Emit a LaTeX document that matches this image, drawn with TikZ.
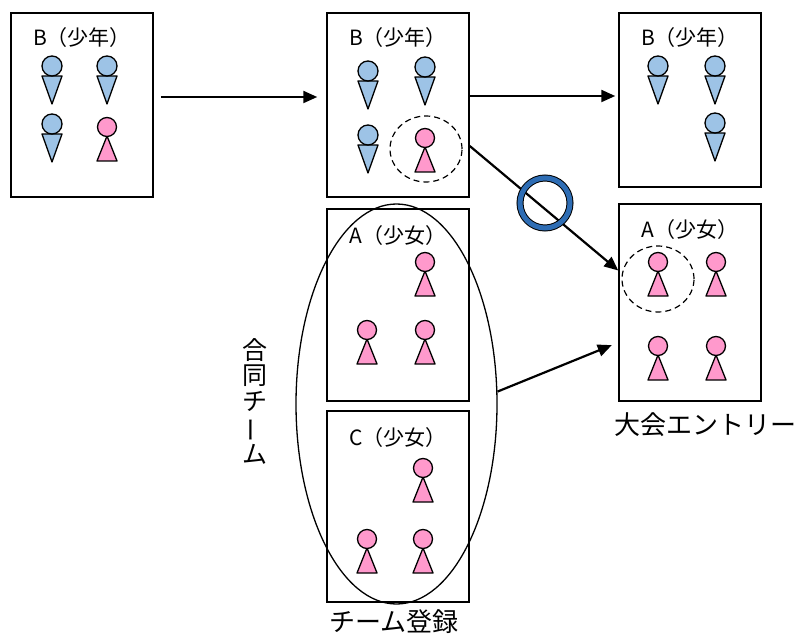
\documentclass[tikz,border=0pt]{standalone}
\usepackage{fontspec}
\setmainfont{Noto Sans CJK JP}
\usetikzlibrary{arrows.meta, positioning, shapes.geometric}

\definecolor{boyblue}{RGB}{157,195,230}
\definecolor{girlpink}{RGB}{255,153,204}
\definecolor{ringblue}{RGB}{46,109,180}

\tikzset{
  teambox/.style={draw, line width=1.5pt, minimum width=142pt, inner sep=0pt},
  teamname/.style={font=\fontsize{21}{24}\selectfont},
  caption/.style={font=\fontsize{26}{30}\selectfont},
  pick/.style={draw, ellipse, dash pattern=on 6pt off 4pt, line width=1.2pt,
    minimum width=72pt, minimum height=66pt, inner sep=0pt},
  link/.style={-{Triangle[length=14pt,width=12pt]}, line width=2.2pt},
  person/.style={draw, line width=1.3pt, line join=round},
  boy/.pic={
    \draw[person, fill=boyblue] (-10,10) -- (10,10) -- (0,38) -- cycle;
    \draw[person, fill=boyblue] (0,0) circle[radius=10pt];
  },
  girl/.pic={
    \draw[person, fill=girlpink] (0,9) -- (10,34) -- (-10,34) -- cycle;
    \draw[person, fill=girlpink] (0,0) circle[radius=9.5pt];
  },
}

\begin{document}
\begin{tikzpicture}[x=1pt, y=-1pt]
    \useasboundingbox (0,0) rectangle (797,636);
    %
    \node [teambox, minimum height=184pt] (b1) at (82,105) {};
    \node [teambox, minimum height=184pt, right of=b1, node distance=316pt] (b2) {};
    \node [teambox, minimum height=174pt] (b3) at (690,100) {};
    \node [teambox, minimum height=192pt, below of=b2, node distance=200pt] (a1) {};
    \node [teambox, minimum height=191pt, below of=a1, node distance=201.5pt] (c1) {};
    \node [teambox, minimum height=197pt, below of=b3, node distance=202.5pt] (a2) {};
    %
    \node [teamname] (b1name) at ([yshift=-25pt]b1.north) {B（少年）};
    \node [teamname] (b2name) at ([yshift=-25pt]b2.north) {B（少年）};
    \node [teamname] (b3name) at ([yshift=-25pt]b3.north) {B（少年）};
    \node [teamname] (a1name) at ([yshift=-27pt]a1.north) {A（少女）};
    \node [teamname] (c1name) at ([yshift=-27pt]c1.north) {C（少女）};
    \node [teamname] (a2name) at ([yshift=-26pt]a2.north) {A（少女）};
    %
    \pic at (52,66) {boy};
    \pic at (107,66) {boy};
    \pic at (52,124) {boy};
    \pic at (107,127) {girl};
    %
    \pic at (368,71) {boy};
    \pic at (425,67) {boy};
    \pic at (368,135) {boy};
    \pic at (425,138) {girl};
    %
    \pic at (658,66) {boy};
    \pic at (715,66) {boy};
    \pic at (715,123) {boy};
    %
    \pic at (425,262) {girl};
    \pic at (367,330) {girl};
    \pic at (425,330) {girl};
    %
    \pic at (423,468) {girl};
    \pic at (367,539) {girl};
    \pic at (423,539) {girl};
    %
    \pic at (658,262) {girl};
    \pic at (716,262) {girl};
    \pic at (658,346) {girl};
    \pic at (716,346) {girl};
    %
    \node [pick] (move) at (426,149) {};
    \node [pick] (moved) at (658,279) {};
    \node [draw, ellipse, line width=1.3pt, minimum width=201pt, minimum height=400pt,
      inner sep=0pt] (joint) at (396.5,404) {};
    %
    \draw [link, shorten <=7pt, shorten >=9pt] ([yshift=8pt]b1.east) -- ([yshift=8pt]b2.west);
    \draw [link, shorten >=3pt] ([yshift=9pt]b2.east) -- ([yshift=9pt]b2.east -| b3.west);
    \draw [link] ([yshift=-41pt]b2.east) -- ([yshift=32pt]a2.west);
    \draw [link, shorten >=7pt] (joint.7) -- ([yshift=-40pt]a2.west);
    %
    \node [circle, draw, line width=1pt, double=ringblue, double distance=5pt,
      minimum size=50pt, inner sep=0pt] (ban) at (545,203) {};
    %
    \node [caption, align=center, font=\fontsize{25}{25.6}\selectfont] (jointname) at (255,401)
      {合\\同\\チ\\\rotatebox[origin=c]{90}{ー}\\ム};
    \node [caption] (entry) at (705,425) {大会エントリー};
    \node [caption] (register) at (394,622) {チーム登録};
\end{tikzpicture}
\end{document}
